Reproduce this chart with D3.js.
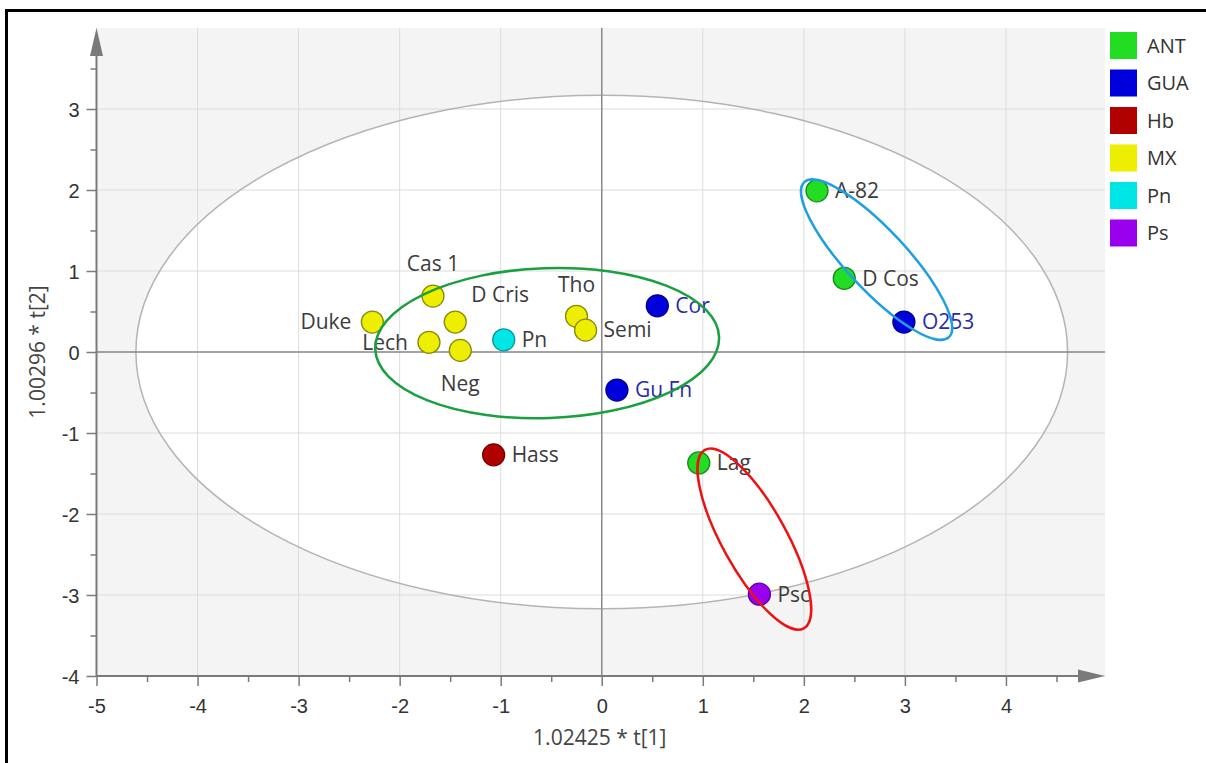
<!DOCTYPE html>
<html><head><meta charset="utf-8">
<script src="https://cdn.jsdelivr.net/npm/d3@7"></script>
<style>
body{margin:0;background:#fff;}
svg{display:block;font-family:"Open Sans","DejaVu Sans",sans-serif;}
</style></head>
<body>
<svg id="chart" width="1206" height="763"></svg>
<script>
// ---- data ----
const groups = ["ANT","GUA","Hb","MX","Pn","Ps"];
const groupColors = ["#22dd22","#0000dd","#b00000","#eeee00","#00e6e6","#9900ee"];
const groupStrokes = ["#1a8a1a","#00008a","#700000","#8a8a10","#009a9a","#6000a0"];
const names  = ["A-82","D Cos","O253","Cor","Gu Fn","Tho","Semi","Pn","Cas 1","D Cris","Lech","Neg","Duke","Hass","Lag","Psc"];
const group  = ["ANT","ANT","GUA","GUA","GUA","MX","MX","Pn","MX","MX","MX","MX","MX","Hb","ANT","Ps"];
const t1 = [2.13, 2.40, 2.99, 0.55, 0.15, -0.25, -0.16, -0.97, -1.67, -1.45, -1.71, -1.40, -2.27, -1.07, 0.96, 1.56];
const t2 = [1.99, 0.91, 0.37, 0.57, -0.47, 0.44, 0.27, 0.15, 0.69, 0.37, 0.12, 0.02, 0.37, -1.27, -1.37, -2.99];
const labelSide = ["r","r","r","r","r","t","r","r","t","tr","l","b","l","r","r","r"];
const xTicks = [-5,-4,-3,-2,-1,0,1,2,3,4];
const yTicks = [-4,-3,-2,-1,0,1,2,3];
const xTitle = "1.02425 * t[1]";
const yTitle = "1.00296 * t[2]";
// Hotelling T2 ellipse semi-axes (data units)
const hotelling = {rx:4.61, ry:3.17};

const svg = d3.select("#chart");
const x = d3.scaleLinear([-5,5],[96.5,1107]);
const y = d3.scaleLinear([-4,4],[676,28]);
const X0 = x(-5), X1 = 1105, Y0 = y(-4), Y1 = 28;
const FS = 20;

// frame
svg.append("path").attr("d",`M6.5,763 V10.5 H1206`).attr("fill","none").attr("stroke","#000").attr("stroke-width",3);

// plot background
svg.append("rect").attr("x",X0).attr("y",Y1).attr("width",X1-X0).attr("height",Y0-Y1).attr("fill","#f4f4f4");
svg.append("ellipse").attr("cx",x(0)).attr("cy",y(0))
  .attr("rx",x(hotelling.rx)-x(0)).attr("ry",y(0)-y(hotelling.ry)).attr("fill","#fff");

// gridlines
const grid = svg.append("g").attr("stroke","#dcdcdc").attr("stroke-width",1);
xTicks.forEach(v=>grid.append("line").attr("x1",x(v)).attr("x2",x(v)).attr("y1",Y1).attr("y2",Y0));
yTicks.forEach(v=>grid.append("line").attr("x1",X0).attr("x2",X1).attr("y1",y(v)).attr("y2",y(v)));

// hotelling outline
svg.append("ellipse").attr("cx",x(0)).attr("cy",y(0))
  .attr("rx",x(hotelling.rx)-x(0)).attr("ry",y(0)-y(hotelling.ry))
  .attr("fill","none").attr("stroke","#b4b4b4").attr("stroke-width",1.5);

// center lines
svg.append("line").attr("x1",X0).attr("x2",X1).attr("y1",y(0)).attr("y2",y(0)).attr("stroke","#8a8a8a").attr("stroke-width",1.5);
svg.append("line").attr("x1",x(0)).attr("x2",x(0)).attr("y1",Y1).attr("y2",Y0).attr("stroke","#8a8a8a").attr("stroke-width",1.5);

// axes
const axisCol = "#7a7a7a";
const xAxis = d3.axisBottom(x).tickValues(d3.range(-5,5,0.5)).tickSize(0).tickFormat("");
const gx = svg.append("g").attr("transform",`translate(0,${Y0})`).call(xAxis);
gx.select(".domain").remove();
gx.selectAll(".tick line").attr("stroke",axisCol).attr("stroke-width",1.5)
  .attr("y2",d=>Number.isInteger(d)?10:6);
gx.selectAll(".tick").filter(d=>Number.isInteger(d)).append("text")
  .attr("y",37).attr("text-anchor","middle").attr("fill","#333").attr("font-size",FS).text(d=>d);
const yAxis = d3.axisLeft(y).tickValues(d3.range(-4,4,0.5)).tickSize(0).tickFormat("");
const gy = svg.append("g").attr("transform",`translate(${X0},0)`).call(yAxis);
gy.select(".domain").remove();
gy.selectAll(".tick line").attr("stroke",axisCol).attr("stroke-width",1.5)
  .attr("x2",d=>Number.isInteger(d)?-10:-6);
gy.selectAll(".tick").filter(d=>Number.isInteger(d)).append("text")
  .attr("x",-17).attr("dy","0.35em").attr("text-anchor","end").attr("fill","#333").attr("font-size",FS).text(d=>d);

svg.append("line").attr("x1",X0).attr("x2",X1-20).attr("y1",Y0).attr("y2",Y0).attr("stroke",axisCol).attr("stroke-width",2);
svg.append("line").attr("x1",X0).attr("x2",X0).attr("y1",Y0).attr("y2",Y1+20).attr("stroke",axisCol).attr("stroke-width",2);
svg.append("path").attr("d",`M${X1},${Y0} L${X1-27},${Y0-6.5} L${X1-27},${Y0+6.5} Z`).attr("fill",axisCol);
svg.append("path").attr("d",`M${X0},${Y1} L${X0-6.5},${Y1+28} L${X0+6.5},${Y1+28} Z`).attr("fill",axisCol);

// axis titles
svg.append("text").attr("x",(x(-5)+x(5))/2-2).attr("y",745).attr("text-anchor","middle")
  .attr("fill","#444").attr("font-size",21).text(xTitle);
svg.append("text").attr("transform",`translate(45,${y(0)}) rotate(-90)`).attr("text-anchor","middle")
  .attr("fill","#444").attr("font-size",21).text(yTitle);

// points + labels
const pts = names.map((n,i)=>({name:n,g:group[i],x:t1[i],y:t2[i],side:labelSide[i]}));
const col = d=>groupColors[groups.indexOf(d.g)];
const scol = d=>groupStrokes[groups.indexOf(d.g)];
const labG = svg.append("g").attr("font-size",21);
pts.forEach(d=>{
  const cx=x(d.x), cy=y(d.y);
  let tx=cx+18, ty=cy, anchor="start";
  if(d.side==="l"){tx=cx-21;anchor="end";}
  if(d.side==="t"){tx=cx;ty=cy-32;anchor="middle";}
  if(d.side==="b"){tx=cx;ty=cy+33;anchor="middle";}
  if(d.side==="tr"){tx=cx+16;ty=cy-27;anchor="start";}
  labG.append("text").attr("x",tx).attr("y",ty).attr("dy","0.35em").attr("text-anchor",anchor)
    .attr("fill",d.g==="GUA"?"#2a2aa8":"#3c3c3c").text(d.name);
});
svg.append("g").selectAll("circle").data(pts).join("circle")
  .attr("cx",d=>x(d.x)).attr("cy",d=>y(d.y)).attr("r",11)
  .attr("fill",col).attr("stroke",scol).attr("stroke-width",1.3);

// hand-drawn group ellipses (centers in data units, sizes in px)
const annCenterX = [-0.54, 2.72, 1.51];
const annCenterY = [0.11, 1.14, -2.31];
const annColors = ["#1aa040","#1ea0e0","#ee1111"];
const annRx = [172, 106, 102], annRy = [75, 30, 32], annRot = [-2, 47, 61];
annCenterX.forEach((cxv,i)=>{
  svg.append("ellipse").attr("transform",`translate(${x(cxv)},${y(annCenterY[i])}) rotate(${annRot[i]})`)
    .attr("rx",annRx[i]).attr("ry",annRy[i]).attr("fill","none").attr("stroke",annColors[i]).attr("stroke-width",2.5);
});

// legend
const lg = svg.append("g").attr("transform","translate(1110,32)");
groups.forEach((g,i)=>{
  lg.append("rect").attr("x",0).attr("y",i*37.5).attr("width",27).attr("height",27).attr("fill",groupColors[i]);
  lg.append("text").attr("x",37).attr("y",i*37.5+13.5).attr("dy","0.35em").attr("fill","#333").attr("font-size",20).text(g);
});
</script>
</body></html>
